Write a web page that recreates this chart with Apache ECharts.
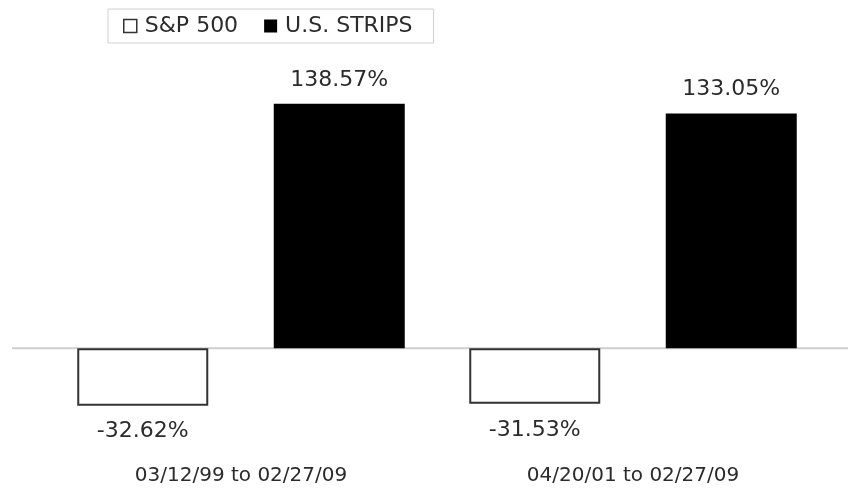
<!DOCTYPE html>
<html>
<head>
<meta charset="utf-8">
<script src="https://cdn.jsdelivr.net/npm/echarts@6/dist/echarts.min.js"></script>
<style>
  html, body { margin: 0; padding: 0; background: #fff; }
  #chart { width: 848px; height: 492px; }
</style>
</head>
<body>
<div id="chart"></div>
<script>
// Cumulative returns over two periods
const periods = ['03/12/99 to 02/27/09', '04/20/01 to 02/27/09'];
const sp500 = [-32.62, -31.53];
const strips = [138.57, 133.05];

const FONT = '"DejaVu Sans", sans-serif';
const TEXT = '#2b2b2b';
const chart = echarts.init(document.getElementById('chart'));

const pctLabel = (pos, dist) => ({
  show: true,
  position: pos,
  distance: dist,
  fontFamily: FONT,
  fontSize: 22,
  color: TEXT,
  formatter: p => p.value.toFixed(2) + '%'
});

chart.setOption({
  animation: false,
  backgroundColor: '#fff',
  legend: {
    left: 108,
    top: 9,
    padding: [6, 21, 6, 15],
    borderColor: '#d0d0d0',
    borderWidth: 1,
    itemWidth: 13,
    itemHeight: 13,
    itemGap: 26,
    textStyle: { fontFamily: FONT, fontSize: 22, color: TEXT, padding: [0, 0, 0, 3] },
    data: [
      { name: 'S&P 500', icon: 'rect', itemStyle: { color: '#fff', borderColor: '#333', borderWidth: 1.5 } },
      { name: 'U.S. STRIPS', icon: 'rect', itemStyle: { color: '#000' } }
    ]
  },
  grid: { left: 45, right: 19, top: 66, bottom: 38 },
  xAxis: {
    type: 'category',
    data: periods,
    position: 'bottom',
    axisLine: { show: false, onZero: false },
    axisTick: { show: false },
    axisLabel: { margin: 12, fontFamily: FONT, fontSize: 20, color: TEXT }
  },
  yAxis: {
    type: 'value',
    min: -60,
    max: 160,
    show: false,
    splitLine: { show: false }
  },
  series: [
    {
      name: 'S&P 500',
      type: 'bar',
      data: sp500,
      barWidth: 131,
      barGap: '50%',
      itemStyle: { color: '#fff', borderColor: '#333', borderWidth: 2 },
      label: pctLabel('bottom', 15)
    },
    {
      name: 'U.S. STRIPS',
      type: 'bar',
      data: strips,
      barWidth: 131,
      itemStyle: { color: '#000' },
      label: pctLabel('top', 13)
    }
  ]
});

// zero baseline across the full width
const y0 = chart.convertToPixel({ yAxisIndex: 0 }, 0);
chart.setOption({
  graphic: [{
    type: 'line',
    shape: { x1: 12, y1: y0, x2: 848, y2: y0 },
    style: { stroke: '#cfcfcf', lineWidth: 2 },
    z: 0
  }]
});
</script>
</body>
</html>
